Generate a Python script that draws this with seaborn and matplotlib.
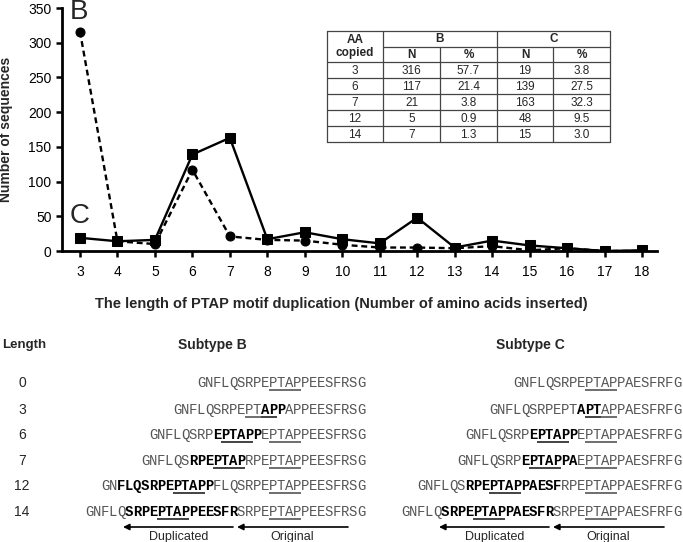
import matplotlib
matplotlib.use("Agg")
import matplotlib.pyplot as plt
import seaborn as sns

lengths = [3, 4, 5, 6, 7, 8, 9, 10, 11, 12, 13, 14, 15, 16, 17, 18]
counts_b = [316, 14, 10, 117, 21, 16, 15, 9, 5, 5, 4, 7, 1, 4, 0, 0]
counts_c = [19, 14, 16, 139, 163, 17, 27, 17, 11, 48, 5, 15, 8, 4, 0, 1]
y_ticks = [0, 50, 100, 150, 200, 250, 300, 350]

# inset table
table_aa = ["3", "6", "7", "12", "14"]
table_b_n = ["316", "117", "21", "5", "7"]
table_b_pct = ["57.7", "21.4", "3.8", "0.9", "1.3"]
table_c_n = ["19", "139", "163", "48", "15"]
table_c_pct = ["3.8", "27.5", "32.3", "9.5", "3.0"]

# sequence alignments: '*' toggles bold (duplicated), '_' toggles underline (PTAP)
row_lengths = ["0", "3", "6", "7", "12", "14"]
seqs_b = [
    "GNFLQSRPE_PTAP_PEESFRSG",
    "GNFLQSRPE_PT*AP_P*APPEESFRSG",
    "GNFLQSRP*E_PTAP_P*E_PTAP_PEESFRSG",
    "GNFLQS*RPE_PTAP*_RPE_PTAP_PEESFRSG",
    "GN*FLQSRPE_PTAP_P*FLQSRPE_PTAP_PEESFRSG",
    "GNFLQ*SRPE_PTAP_PEESFR*SRPE_PTAP_PEESFRSG",
]
seqs_c = [
    "GNFLQSRPE_PTAP_PAESFRFG",
    "GNFLQSRPEPT*A_PT*AP_PAESFRFG",
    "GNFLQSRP*E_PTAP_P*E_PTAP_PAESFRFG",
    "GNFLQSRP*E_PTAP_PA*E_PTAP_PAESFRFG",
    "GNFLQS*RPE_PTAP_PAESF*RPE_PTAP_PAESFRFG",
    "GNFLQ*SRPE_PTAP_PAESFR*SRPE_PTAP_PAESFRFG",
]

sns.set_style("ticks")
plt.rcParams['font.family'] = ['Liberation Sans', 'DejaVu Sans']
MONO = ['Liberation Mono', 'DejaVu Sans Mono']

W, H = 683, 542
fig = plt.figure(figsize=(W / 100, H / 100), dpi=100)

# ---- line chart ----
ax = fig.add_axes([62 / W, 1 - 251 / H, (657 - 62) / W, 243 / H])
sns.lineplot(x=lengths, y=counts_b, ax=ax, color='black', linestyle=(0, (2.5, 1.6)),
             linewidth=1.7, marker='o', markersize=6.5, markeredgecolor='black')
sns.lineplot(x=lengths, y=counts_c, ax=ax, color='black', linestyle='-',
             linewidth=1.7, marker='s', markersize=6.5, markeredgecolor='black')
ax.set_xlim(2.52, 18.4)
ax.set_ylim(0, 350)
ax.set_xticks(lengths)
ax.set_yticks(y_ticks)
ax.tick_params(axis='both', direction='out', length=4, width=1.8, labelsize=10, colors='black')
ax.tick_params(axis='x', pad=6)
for side in ['left', 'bottom']:
    ax.spines[side].set_linewidth(2)
    ax.spines[side].set_color('black')
sns.despine(ax=ax)
ax.set_xlabel("The length of PTAP motif duplication (Number of amino acids inserted)",
              fontsize=10.5, fontweight='bold')
ax.set_ylabel("Number of sequences", fontsize=10, fontweight='bold')
ax.xaxis.set_label_coords(0.47, -0.19)
ax.yaxis.set_label_coords(-0.083, 0.5)

# ---- overlay in pixel coordinates ----
ov = fig.add_axes([0, 0, 1, 1])
ov.set_xlim(0, W)
ov.set_ylim(H, 0)
ov.axis('off')

ov.text(70, 19, "B", fontsize=20, va='baseline', ha='left')
ov.text(70, 223, "C", fontsize=20, va='baseline', ha='left')

# table
cols = [327, 383, 440, 497, 553, 610]
rows = [31, 47, 62, 78, 94, 110, 126, 142]
lc = '#444444'
for y in rows:
    if y == 47:
        ov.plot([cols[1], cols[-1]], [y, y], color=lc, lw=0.9)
    else:
        ov.plot([cols[0], cols[-1]], [y, y], color=lc, lw=0.9)
for i, x in enumerate(cols):
    y0 = rows[1] if i in (2, 4) else rows[0]
    ov.plot([x, x], [y0, rows[-1]], color=lc, lw=0.9)

tfs = 8.5
ov.text((cols[0] + cols[1]) / 2, (rows[0] + rows[2]) / 2, "AA\ncopied", ha='center', va='center',
        fontsize=tfs, fontweight='bold', linespacing=1.1)
ov.text((cols[1] + cols[3]) / 2, (rows[0] + rows[1]) / 2, "B", ha='center', va='center',
        fontsize=tfs, fontweight='bold')
ov.text((cols[3] + cols[5]) / 2, (rows[0] + rows[1]) / 2, "C", ha='center', va='center',
        fontsize=tfs, fontweight='bold')
for j, lab in enumerate(["N", "%", "N", "%"]):
    ov.text((cols[j + 1] + cols[j + 2]) / 2, (rows[1] + rows[2]) / 2, lab, ha='center',
            va='center', fontsize=tfs, fontweight='bold')
for r, vals in enumerate(zip(table_aa, table_b_n, table_b_pct, table_c_n, table_c_pct)):
    for j, v in enumerate(vals):
        ov.text((cols[j] + cols[j + 1]) / 2, (rows[r + 2] + rows[r + 3]) / 2 + 0.5, v,
                ha='center', va='center', fontsize=tfs)

# ---- alignment panel ----
ov.text(24, 345, "Length", ha='center', va='center', fontsize=9.5, fontweight='bold')
ov.text(212, 345, "Subtype B", ha='center', va='center', fontsize=10, fontweight='bold')
ov.text(530, 345, "Subtype C", ha='center', va='center', fontsize=10, fontweight='bold')

row_y = [383, 410, 435, 461, 486, 512]
CW = 8.0


def parse(s):
    out = []
    bold = False
    under = False
    for ch in s:
        if ch == '*':
            bold = not bold
        elif ch == '_':
            under = not under
        else:
            out.append((ch, bold, under))
    return out


def draw_seq(s, right, y):
    chars = parse(s)
    left = right - CW * len(chars)
    for i, (ch, b, u) in enumerate(chars):
        x0 = left + i * CW
        ov.text(x0 + CW / 2, y, ch, ha='center', va='center', family=MONO, fontsize=10,
                fontweight='bold' if b else 'normal', color='black' if b else '#555555')
        if u:
            ov.plot([x0, x0 + CW], [y + 7, y + 7], color='#222222' if b else '#555555',
                    lw=1.2, solid_capstyle='butt')
    return left, chars


for lab, y in zip(row_lengths, row_y):
    ov.text(22, y, lab, ha='center', va='center', fontsize=10)

for right, seqs in [(365, seqs_b), (681, seqs_c)]:
    for s, y in zip(seqs, row_y):
        left, chars = draw_seq(s, right, y)
    # arrows under the longest row: duplicated block and original block
    bold_idx = [i for i, c in enumerate(chars) if c[1]]
    dup_l = left + bold_idx[0] * CW
    dup_r = left + (bold_idx[-1] + 1) * CW
    ay = 527
    ov.annotate("", xy=(dup_l - 2, ay), xytext=(dup_r - 4, ay),
                arrowprops=dict(arrowstyle='-|>', color='black', lw=1.2, mutation_scale=9,
                                shrinkA=0, shrinkB=0))
    ov.annotate("", xy=(dup_r, ay), xytext=(right - 17, ay),
                arrowprops=dict(arrowstyle='-|>', color='black', lw=1.2, mutation_scale=9,
                                shrinkA=0, shrinkB=0))
    ov.text((dup_l + dup_r) / 2 - 2, 537, "Duplicated", ha='center', va='center', fontsize=9)
    ov.text((dup_r + right - 17) / 2, 537, "Original", ha='center', va='center', fontsize=9)

fig.savefig("out.png", dpi=100)
